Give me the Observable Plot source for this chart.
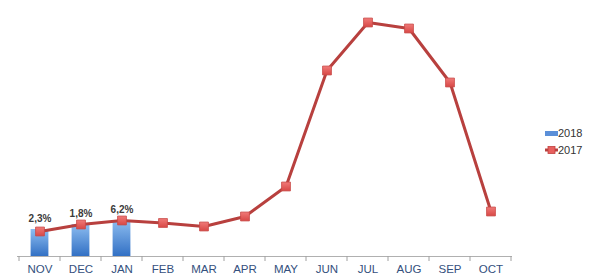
<!DOCTYPE html>
<html>
<head>
<meta charset="utf-8">
<script src="https://cdn.jsdelivr.net/npm/d3@7"></script>
<script src="https://cdn.jsdelivr.net/npm/@observablehq/plot@0.6"></script>
<style>
  html, body { margin: 0; padding: 0; background: #fff; }
  #wrap { position: relative; width: 600px; height: 279px; }
  #legend { position: absolute; left: 545px; top: 124px; font: 11px Arial, "Liberation Sans", sans-serif; color: #333; }
  #legend div { display: flex; align-items: center; height: 17px; }
</style>
</head>
<body>
<div id="wrap">
  <div id="chart"></div>
  <div id="legend">
    <div><svg width="13" height="8"><rect x="0" y="2" width="13" height="5" fill="#5b8fd8"/></svg><span>2018</span></div>
    <div><svg width="13" height="10"><line x1="0" y1="5" x2="13" y2="5" stroke="#b8403e" stroke-width="3"/><rect x="3" y="1.5" width="7" height="7" fill="#e8605e" stroke="#c0403e" stroke-width="0.8"/></svg><span>2017</span></div>
  </div>
</div>
<script>
const months = ["NOV","DEC","JAN","FEB","MAR","APR","MAY","JUN","JUL","AUG","SEP","OCT"];
const values2017 = [25, 32, 36, 33.5, 30, 40, 70, 186, 234, 228, 174, 45];
const months2018 = ["NOV","DEC","JAN"];
const values2018 = [27, 32, 36];
const labels2018 = ["2,3%","1,8%","6,2%"];

const line = months.map((m, i) => ({month: m, value: values2017[i]}));
const bars = months2018.map((m, i) => ({month: m, value: values2018[i], label: labels2018[i]}));

const plot = Plot.plot({
  width: 600,
  height: 279,
  marginLeft: 17,
  marginRight: 88,
  marginTop: 10,
  marginBottom: 23,
  style: {fontFamily: "Arial, 'Liberation Sans', sans-serif", background: "#fff"},
  x: {type: "band", domain: months, padding: 0, axis: null},
  y: {domain: [0, 246], axis: null},
  marks: [
    Plot.barY(bars, {x: "month", y: "value", fill: "url(#barGrad)", insetLeft: 11.6, insetRight: 11.6}),
    Plot.ruleY([0], {stroke: "#b0b0b0", strokeWidth: 1}),
    Plot.line(line, {x: "month", y: "value", stroke: "#b8403e", strokeWidth: 3}),
    Plot.dot(line, {x: "month", y: "value", symbol: "square", r: 5, fill: "url(#dotGrad)", stroke: "#c84a48", strokeWidth: 0.8}),
    Plot.text(bars, {x: "month", y: "value", text: "label", dy: -11, fontSize: 10, fontWeight: "bold", fill: "#3a3a3a"}),
    Plot.text(months, {x: d => d, y: 0, text: d => d, fontSize: 11.5, fill: "#34507d", dy: 12.5})
  ]
});

// gradients
const defs = d3.select(plot).insert("defs", ":first-child");
const g1 = defs.append("linearGradient").attr("id", "barGrad").attr("x1", 0).attr("y1", 0).attr("x2", 0).attr("y2", 1);
g1.append("stop").attr("offset", "0%").attr("stop-color", "#8dbdf0");
g1.append("stop").attr("offset", "100%").attr("stop-color", "#3270c4");
const g2 = defs.append("linearGradient").attr("id", "dotGrad").attr("x1", 0).attr("y1", 0).attr("x2", 0).attr("y2", 1);
g2.append("stop").attr("offset", "0%").attr("stop-color", "#f07a78");
g2.append("stop").attr("offset", "100%").attr("stop-color", "#d84846");

// tick marks below axis line at band boundaries
const ys = plot.scale("y");
const xs = plot.scale("x");
const y0 = ys.apply(0);
const tg = d3.select(plot).append("g").attr("stroke", "#a0a0a0");
const bounds = months.map(m => xs.apply(m)).concat([xs.apply(months[months.length - 1]) + xs.bandwidth]);
bounds.forEach(b => tg.append("line").attr("x1", b).attr("x2", b).attr("y1", y0).attr("y2", y0 + 5));

document.getElementById("chart").appendChild(plot);
</script>
</body>
</html>
